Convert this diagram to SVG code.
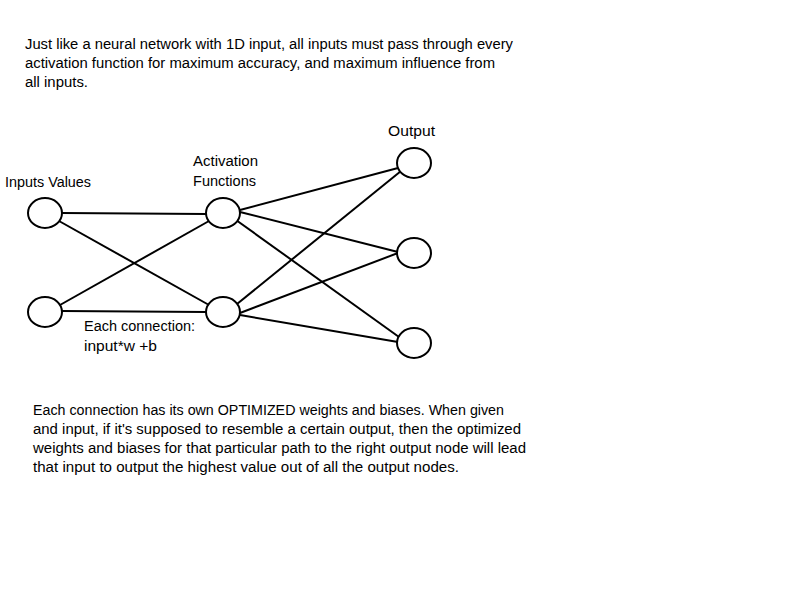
<svg xmlns="http://www.w3.org/2000/svg" width="800" height="600" viewBox="0 0 800 600">
<style>
text{font-family:"Liberation Sans","Open Sans",sans-serif;font-size:14px;fill:#000}
.n{fill:#fff;stroke:#000;stroke-width:2}
.c line{stroke:#000;stroke-width:2}
</style>
<rect width="800" height="600" fill="#fff"/>
<g id="intro">
<text x="25" y="49" textLength="488" lengthAdjust="spacingAndGlyphs">Just like a neural network with 1D input, all inputs must pass through every</text>
<text x="25" y="68" textLength="470" lengthAdjust="spacingAndGlyphs">activation function for maximum accuracy, and maximum influence from</text>
<text x="25" y="87" textLength="63" lengthAdjust="spacingAndGlyphs">all inputs.</text>
</g>
<g class="c" id="connectors">
<line x1="62" y1="213" x2="206" y2="214"/>
<line x1="59" y1="221" x2="209" y2="305"/>
<line x1="60" y1="305" x2="209" y2="221"/>
<line x1="62" y1="311" x2="206" y2="312"/>
<line x1="240" y1="210" x2="398" y2="168"/>
<line x1="240" y1="212" x2="398" y2="252"/>
<line x1="236" y1="220" x2="399" y2="337"/>
<line x1="237" y1="304" x2="401" y2="171"/>
<line x1="240" y1="313" x2="398" y2="253"/>
<line x1="240" y1="315" x2="398" y2="342"/>
</g>
<g id="in1"><ellipse class="n" cx="45" cy="213" rx="17" ry="15"/></g>
<g id="in2"><ellipse class="n" cx="45" cy="312" rx="17" ry="15"/></g>
<g id="act1"><ellipse class="n" cx="223" cy="213" rx="17" ry="15"/></g>
<g id="act2"><ellipse class="n" cx="223" cy="312" rx="17" ry="15"/></g>
<g id="out1"><ellipse class="n" cx="414" cy="163" rx="17" ry="15"/></g>
<g id="out2"><ellipse class="n" cx="414" cy="253" rx="17" ry="15"/></g>
<g id="out3"><ellipse class="n" cx="414" cy="343" rx="17" ry="15"/></g>
<g id="labels">
<text x="388" y="136" textLength="47" lengthAdjust="spacingAndGlyphs">Output</text>
<text x="193" y="166" textLength="65" lengthAdjust="spacingAndGlyphs">Activation</text>
<text x="193" y="186" textLength="63" lengthAdjust="spacingAndGlyphs">Functions</text>
<text x="5" y="187" textLength="86" lengthAdjust="spacingAndGlyphs">Inputs Values</text>
<text x="84" y="331" textLength="111" lengthAdjust="spacingAndGlyphs">Each connection:</text>
<text x="84" y="351" textLength="73" lengthAdjust="spacingAndGlyphs">input*w +b</text>
</g>
<g id="note">
<text x="33" y="415" textLength="471" lengthAdjust="spacingAndGlyphs">Each connection has its own OPTIMIZED weights and biases. When given</text>
<text x="33" y="434" textLength="488" lengthAdjust="spacingAndGlyphs">and input, if it's supposed to resemble a certain output, then the optimized</text>
<text x="33" y="453" textLength="493" lengthAdjust="spacingAndGlyphs">weights and biases for that particular path to the right output node will lead</text>
<text x="33" y="472" textLength="426" lengthAdjust="spacingAndGlyphs">that input to output the highest value out of all the output nodes.</text>
</g>
</svg>
